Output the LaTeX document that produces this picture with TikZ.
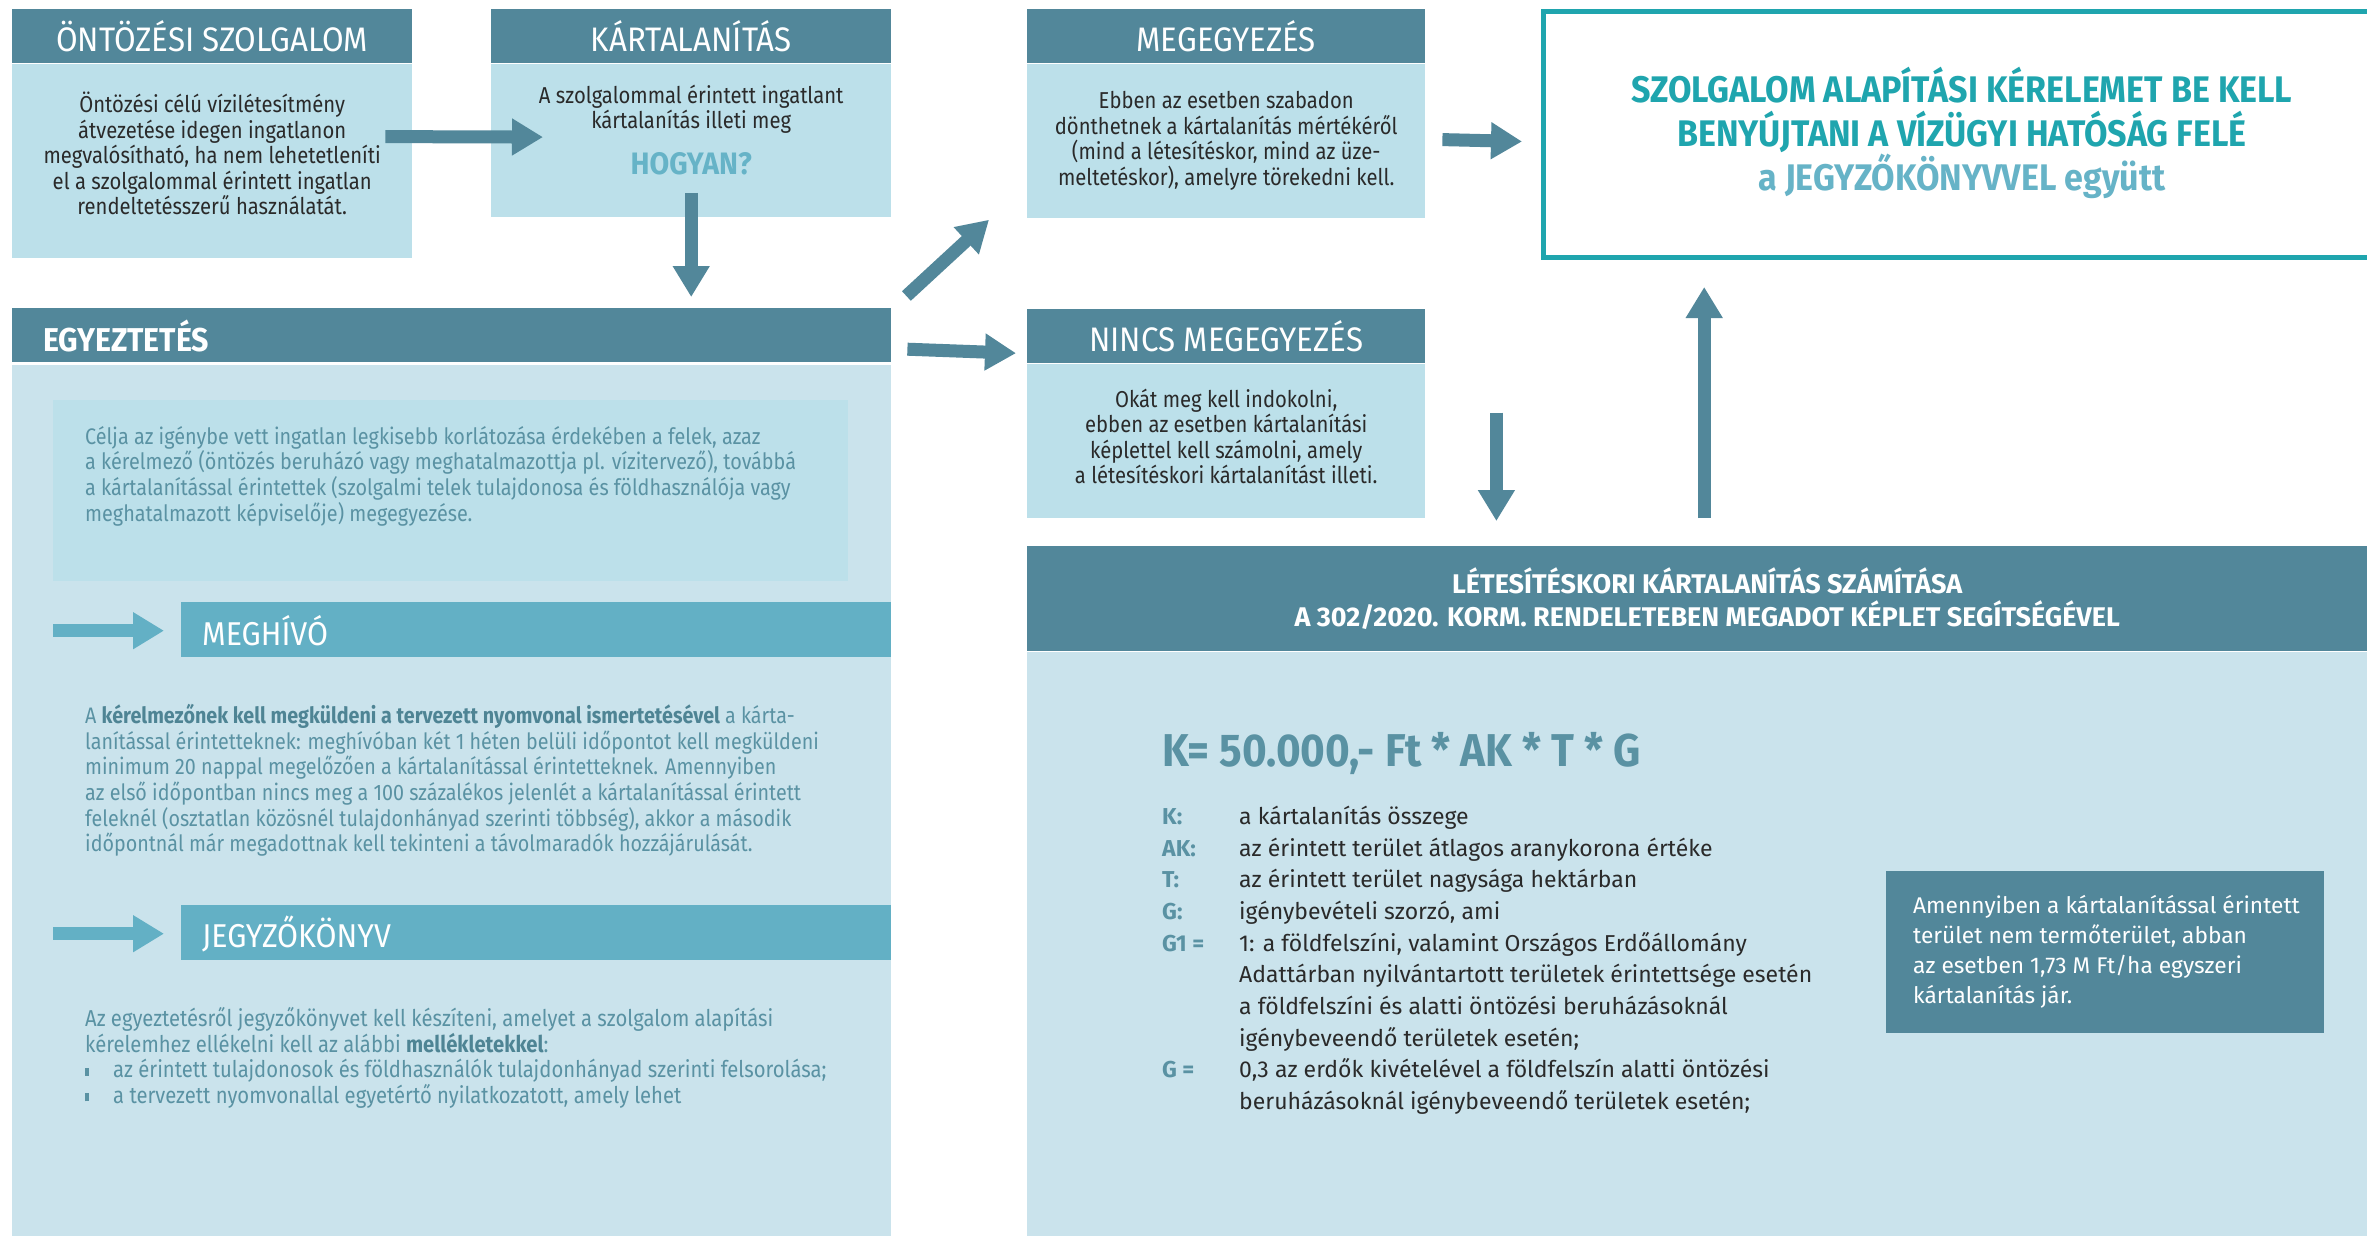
\documentclass[tikz,border=0pt]{standalone}
\usepackage{fontspec}
\setmainfont{Fira Sans}[FakeStretch=0.88]
\newfontfamily\widefont{Fira Sans}[FakeStretch=0.92]
\newfontfamily\plainfont{Fira Sans}
\usetikzlibrary{positioning,arrows.meta,calc}
\definecolor{hdrblue}{HTML}{52879A}
\definecolor{boxblue}{HTML}{BCE0EA}
\definecolor{paleblue}{HTML}{CAE3EC}
\definecolor{barblue}{HTML}{63B0C5}
\definecolor{tealline}{HTML}{1FA5AE}
\definecolor{tealtext}{HTML}{5A92A3}
\definecolor{boldteal}{HTML}{4E8494}
\definecolor{darktext}{HTML}{2A2A2A}
\definecolor{lighttext}{HTML}{66B3C7}
\newcommand\varlbl[1]{\textcolor{tealtext}{\bfseries #1}}
\newcommand\sqbullet{\makebox[28pt][l]{\rule[2pt]{4pt}{8pt}}}
\newcommand\boldpart[1]{\textcolor{boldteal}{\bfseries #1}}
\tikzset{
  box header/.style={fill=hdrblue, text=white, inner sep=0pt, anchor=north west,
    minimum width=#1, minimum height=54pt, font=\widefont\fontsize{34}{40}\selectfont},
  box header/.default=400pt,
  box body/.style={fill=boxblue, inner sep=0pt, minimum width=#1},
  box body/.default=400pt,
  body text/.style={text=darktext, align=center, inner sep=0pt,
    font=\fontsize{23}{25.5}\selectfont},
  para/.style={text=tealtext, align=left, inner sep=0pt, anchor=north west,
    font=\fontsize{23}{25.7}\selectfont},
  sub bar/.style={fill=barblue, inner sep=0pt, anchor=north west,
    minimum width=710pt, minimum height=55pt},
  bar text/.style={text=white, inner sep=0pt, anchor=west,
    font=\widefont\fontsize{33}{38}\selectfont},
  block arrow/.style={draw=#1, line width=13pt, -{Triangle[length=31pt,width=35pt]}},
  block arrow/.default=hdrblue
}
\begin{document}
\begin{tikzpicture}[x=1pt,y=-1pt]
\useasboundingbox (0,0) rectangle (2367,1236);
\fill[white] (0,0) rectangle (2367,1236);

% top row
\node[box header] (onthdr) at (12,9) {ÖNTÖZÉSI SZOLGALOM};
\node[box body, minimum height=194pt, below=0pt of onthdr] (ontbody) {};
\node[body text] (onttxt) at ($(ontbody.center)+(0,-7)$) {Öntözési célú vízilétesítmény\\
  átvezetése idegen ingatlanon\\ megvalósítható, ha nem lehetetleníti\\
  el a szolgalommal érintett ingatlan\\ rendeltetésszerű használatát.};

\node[box header] (karthdr) at (491,9) {KÁRTALANÍTÁS};
\node[box body, minimum height=153pt, below=0pt of karthdr] (kartbody) {};
\node[body text] (karttxt) at ($(kartbody.center)+(0,-10)$) {A szolgalommal érintett ingatlant\\
  kártalanítás illeti meg\\[18pt]
  {\widefont\bfseries\color{lighttext}\fontsize{31}{34}\selectfont HOGYAN?}};

\node[box header=398pt] (meghdr) at (1027,9) {MEGEGYEZÉS};
\node[box body=398pt, minimum height=154pt, below=0pt of meghdr] (megbody) {};
\node[body text] (megtxt) at (megbody.center) {Ebben az esetben szabadon\\
  dönthetnek a kártalanítás mértékéről\\ (mind a létesítéskor, mind az üze-\\
  meltetéskor), amelyre törekedni kell.};

\node[draw=tealline, line width=5pt, minimum width=850pt, minimum height=246pt,
  anchor=north west] (bigbox) at (1541,9) {};
\node[text=tealline, align=center, font=\widefont\bfseries\fontsize{37}{44}\selectfont]
  (bigtxt) at (1962,133) {SZOLGALOM ALAPÍTÁSI KÉRELEMET BE KELL\\
  BENYÚJTANI A VÍZÜGYI HATÓSÁG FELÉ\\ \textcolor{lighttext}{a JEGYZŐKÖNYVVEL együtt}};

% middle row
\node[box header=398pt] (ninchdr) at (1027,309) {NINCS MEGEGYEZÉS};
\node[box body=398pt, minimum height=154pt, below=0pt of ninchdr] (nincbody) {};
\node[body text] (ninctxt) at ($(nincbody.center)+(0,-4)$) {Okát meg kell indokolni,\\
  ebben az esetben kártalanítási\\ képlettel kell számolni, amely\\
  a létesítéskori kártalanítást illeti.};

% egyeztetes
\node[box header=879pt] (egyhdr) at (12,308) {};
\node[text=white, anchor=west, inner sep=0pt, font=\widefont\bfseries\fontsize{33}{38}\selectfont]
  (egytxt) at ($(egyhdr.west)+(31,1)$) {EGYEZTETÉS};
\node[fill=paleblue, inner sep=0pt, minimum width=879pt, minimum height=880pt,
  below=2pt of egyhdr] (egybody) {};
\node[fill=boxblue, inner sep=0pt, anchor=north west, minimum width=795pt,
  minimum height=181pt] (celbox) at (53,400) {};
\node[para, font=\fontsize{22.5}{25.7}\selectfont] (celtxt) at (85,426) {Célja az igénybe vett ingatlan legkisebb korlátozása érdekében a felek, azaz\\
  a kérelmező (öntözés beruházó vagy meghatalmazottja pl. vízitervező), továbbá\\
  a kártalanítással érintettek (szolgalmi telek tulajdonosa és földhasználója vagy\\
  meghatalmazott képviselője) megegyezése.};

\node[sub bar] (meghbar) at (181,602) {};
\node[bar text] (meghtxt) at ($(meghbar.west)+(21,1)$) {MEGHÍVÓ};
\node[para, font=\fontsize{22.4}{25.7}\selectfont] (meghpara) at (85,704) {A \boldpart{kérelmezőnek kell megküldeni a tervezett nyomvonal ismertetésével} a kárta-\\
  lanítással érintetteknek: meghívóban két 1 héten belüli időpontot kell megküldeni\\
  minimum 20 nappal megelőzően a kártalanítással érintetteknek. Amennyiben\\
  az első időpontban nincs meg a 100 százalékos jelenlét a kártalanítással érintett\\
  feleknél (osztatlan közösnél tulajdonhányad szerinti többség), akkor a második\\
  időpontnál már megadottnak kell tekinteni a távolmaradók hozzájárulását.};

\node[sub bar] (jkbar) at (181,905) {};
\node[bar text] (jktxt) at ($(jkbar.west)+(21,1)$) {JEGYZŐKÖNYV};
\node[para] (jkpara) at (85,1007) {Az egyeztetésről jegyzőkönyvet kell készíteni, amelyet a szolgalom alapítási\\
  kérelemhez ellékelni kell az alábbi \boldpart{mellékletekkel}:\\
  \sqbullet az érintett tulajdonosok és földhasználók tulajdonhányad szerinti felsorolása;\\
  \sqbullet a tervezett nyomvonallal egyetértő nyilatkozatott, amely lehet};

% letesiteskori
\node[box header=1360pt, minimum height=105pt, align=center,
  font=\plainfont\bfseries\fontsize{27}{33}\selectfont] (lethdr) at (1027,546)
  {LÉTESÍTÉSKORI KÁRTALANÍTÁS SZÁMÍTÁSA\\ A 302/2020. KORM. RENDELETEBEN MEGADOT KÉPLET SEGÍTSÉGÉVEL};
\node[fill=paleblue, inner sep=0pt, minimum width=1360pt, minimum height=600pt,
  below=0pt of lethdr] (letbody) {};
\node[text=tealtext, anchor=base west, inner sep=0pt,
  font=\widefont\bfseries\fontsize{46}{50}\selectfont] (formula) at (1162,766)
  {K= 50.000,- Ft * AK * T * G};
\node[anchor=north west, inner sep=0pt, text=darktext,
  font=\plainfont\fontsize{23}{31.7}\selectfont] (vars) at (1162,802) {%
  \begin{tabular}{@{}p{77pt}@{}l@{}}
  \varlbl{K:} & a kártalanítás összege\\
  \varlbl{AK:} & az érintett terület átlagos aranykorona értéke\\
  \varlbl{T:} & az érintett terület nagysága hektárban\\
  \varlbl{G:} & igénybevételi szorzó, ami\\
  \varlbl{G1 =} & 1: a földfelszíni, valamint Országos Erdőállomány\\
   & Adattárban nyilvántartott területek érintettsége esetén\\
   & a földfelszíni és alatti öntözési beruházásoknál\\
   & igénybeveendő területek esetén;\\
  \varlbl{G =} & 0,3 az erdők kivételével a földfelszín alatti öntözési\\
   & beruházásoknál igénybeveendő területek esetén;
  \end{tabular}};
\node[fill=hdrblue, inner sep=0pt, anchor=north west, minimum width=438pt,
  minimum height=162pt] (sidebox) at (1886,871) {};
\node[text=white, align=left, anchor=west, inner sep=0pt,
  font=\plainfont\fontsize{22.7}{30}\selectfont] (sidetxt) at (1913,952)
  {Amennyiben a kártalanítással érintett\\ terület nem termőterület, abban\\
  az esetben 1,73 M Ft/ha egyszeri\\ kártalanítás jár.};

% arrows
\draw[block arrow] ([shift={(-27,-24)}]ontbody.east) -- ([shift={(52,-3)}]kartbody.west);
\draw[block arrow] ([yshift=24pt]kartbody.south) -- ([yshift=11pt]kartbody.south |- egyhdr.north);
\draw[block arrow] ([shift={(15,-12)}]egyhdr.north east) -- ([shift={(-38,2)}]megbody.south west);
\draw[block arrow] ([shift={(16,14)}]egyhdr.east) -- ([shift={(-11,17)}]ninchdr.west);
\draw[block arrow] ([shift={(17,-1)}]megbody.east) -- ([shift={(-19,7)}]bigbox.west);
\draw[block arrow] ($(nincbody.east)+(71,-28)$) -- ($(nincbody.east |- lethdr.north)+(71,-25)$);
\draw[block arrow] ($(lethdr.north)+(-3,-28)$) -- ($(lethdr.north |- bigbox.south)+(-3,27)$);
\draw[block arrow=barblue] ($(meghbar.west)+(-128,1)$) -- ($(meghbar.west)+(-17,1)$);
\draw[block arrow=barblue] ($(jkbar.west)+(-128,1)$) -- ($(jkbar.west)+(-17,1)$);
\end{tikzpicture}
\end{document}
